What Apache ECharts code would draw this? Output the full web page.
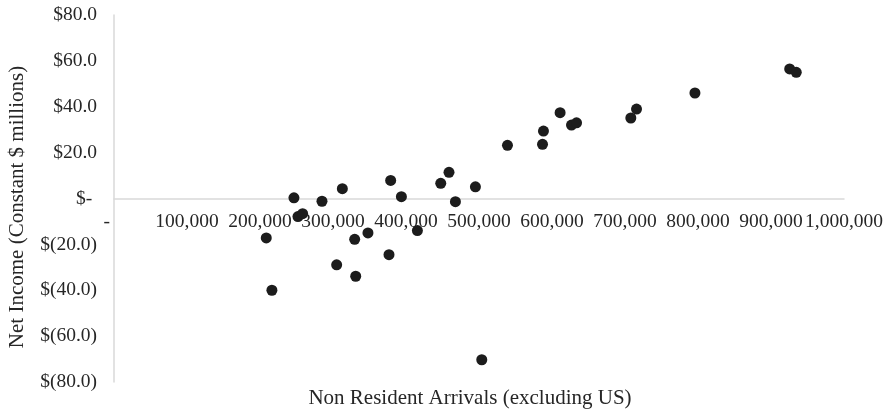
<!DOCTYPE html>
<html>
<head>
<meta charset="utf-8">
<script src="https://cdn.jsdelivr.net/npm/echarts@6/dist/echarts.min.js"></script>
<style>
html,body{margin:0;padding:0;background:#fff;}
#chart{width:892px;height:415px;}
</style>
</head>
<body>
<div id="chart"></div>
<script>
// Non Resident Arrivals (excluding US)
const arrivals = [208600, 216300, 246500, 252000, 258400, 284900, 312800, 305000, 329700, 331100, 347900, 379000, 376700, 393700, 415600, 447600, 458900, 467700, 495100, 503800, 539000, 587000, 588300, 611100, 626700, 633600, 708000, 715800, 795800, 925600, 934600];
// Net Income (Constant $ millions)
const netIncome = [-17.2, -40.0, 0.3, -7.9, -6.6, -1.2, 4.3, -28.9, -17.8, -33.9, -15.0, 7.9, -24.5, 0.8, -14.0, 6.6, 11.4, -1.4, 5.1, -70.3, 23.2, 23.6, 29.4, 37.4, 32.0, 33.0, 35.1, 39.0, 46.0, 56.5, 55.0];
const xTitle = 'Non Resident Arrivals (excluding US)';
const yTitle = 'Net Income (Constant $ millions)';

const font = "'Liberation Serif', 'Times New Roman', serif";
const textColor = '#262626';
const lineColor = '#d9d9d9';

const points = arrivals.map((x, i) => [x, netIncome[i]]);

const chart = echarts.init(document.getElementById('chart'), null, {renderer: 'canvas'});
chart.setOption({
  animation: false,
  backgroundColor: '#fff',
  grid: {left: 114, top: 15, width: 730, height: 367, containLabel: false},
  xAxis: {
    type: 'value', min: 0, max: 1000000, interval: 100000,
    position: 'bottom',
    offset: -183.5,
    axisLine: {show: true, onZero: false, lineStyle: {color: lineColor, width: 1.5}},
    axisTick: {show: false},
    splitLine: {show: false},
    axisLabel: {
      margin: 13, color: textColor, fontFamily: font, fontSize: 19.5,
      formatter: v => v === 0 ? '-   ' : v.toLocaleString('en-US')
    }
  },
  yAxis: {
    type: 'value', min: -80, max: 80, interval: 20,
    axisLine: {show: true, lineStyle: {color: lineColor, width: 1.5}},
    axisTick: {show: false},
    splitLine: {show: false},
    axisLabel: {
      margin: 17, color: textColor, fontFamily: font, fontSize: 19.5,
      formatter: v => v === 0 ? '$- ' : (v > 0 ? '$' + v.toFixed(1) : '$(' + Math.abs(v).toFixed(1) + ')')
    }
  },
  graphic: [
    {type: 'text', x: 470, y: 398, style: {text: xTitle, fill: textColor, font: '21px ' + font, textAlign: 'center', textVerticalAlign: 'middle'}},
    {type: 'text', x: 17, y: 207, rotation: Math.PI / 2, style: {text: yTitle, fill: textColor, font: '21px ' + font, textAlign: 'center', textVerticalAlign: 'middle'}}
  ],
  series: [{
    type: 'scatter',
    data: points,
    symbol: 'circle',
    symbolSize: 11,
    itemStyle: {color: '#1c1c1c', opacity: 1}
  }]
});
</script>
</body>
</html>
